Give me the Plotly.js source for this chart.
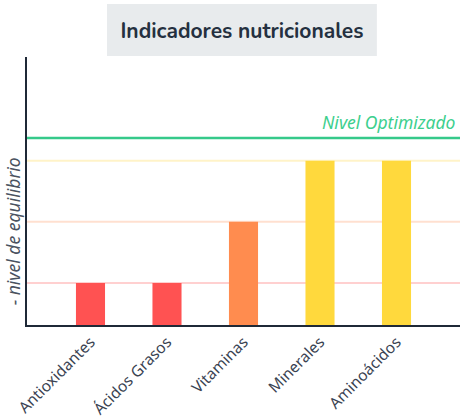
<!DOCTYPE html>
<html><head><meta charset="utf-8">
<script src="https://cdn.plot.ly/plotly-3.0.1.min.js"></script>
<style>html,body{margin:0;padding:0;background:#fff}#chart{width:460px;height:419px}</style>
</head><body><div id="chart"></div>
<script>
const categories = ["Antioxidantes", "Ácidos Grasos", "Vitaminas", "Minerales", "Aminoácidos"];
const values = [1, 1, 2, 3, 3];
const barColors = ["#ff5252", "#ff5252", "#ff8c4f", "#ffd93d", "#ffd93d"];
const levels = [1, 2, 3];
const levelColors = ["#ffd0d0", "#ffe0d0", "#fff3c8"];
const optimalLevel = 3.375;
const optimalLabel = "Nivel Optimizado";
const yTitle = "- nivel de equilibrio";
const chartTitle = "Indicadores nutricionales";

const shapes = levels.map((v, i) => ({
  type: "line", xref: "paper", x0: 0, x1: 1, yref: "y", y0: v, y1: v,
  line: {color: levelColors[i], width: 2}, layer: "below"
}));
shapes.push({type: "line", xref: "paper", x0: 0, x1: 1, yref: "y", y0: optimalLevel, y1: optimalLevel,
  line: {color: "#36c98a", width: 2.5}, layer: "below"});
shapes.push({type: "rect", xref: "paper", yref: "paper", x0: 0.1848, x1: 0.808, y0: 1.0037, y1: 1.198,
  fillcolor: "#e8ebed", line: {width: 0}, layer: "below"});

const trace = {
  type: "bar", x: categories, y: values, width: 0.38,
  marker: {color: barColors}, hoverinfo: "skip"
};

const layout = {
  width: 460, height: 419,
  margin: {l: 27, r: 0, t: 57, b: 94, pad: 0},
  paper_bgcolor: "#fff", plot_bgcolor: "#fff",
  showlegend: false,
  title: {text: "<b>" + chartTitle + "</b>", x: 0.526, xanchor: "center", y: 0.928, yanchor: "middle",
    font: {family: "Nunito, Lato, sans-serif", size: 21, color: "#243040"}},
  xaxis: {range: [-0.83, 4.83], showgrid: false, zeroline: false, showline: true, linecolor: "#1f2937", linewidth: 2,
    ticks: "", tickangle: -45, tickfont: {family: "Noto Sans, sans-serif", size: 15.5, color: "#3a4352"}},
  yaxis: {range: [0.31, 4.7], showgrid: false, zeroline: false, showline: true, linecolor: "#1f2937", linewidth: 2,
    showticklabels: false, ticks: ""},
  shapes: shapes,
  annotations: [
    {xref: "paper", x: 0.995, xanchor: "right", yref: "y", y: optimalLevel, yanchor: "bottom", yshift: 2,
     text: "<i>" + optimalLabel + "</i>", showarrow: false,
     font: {family: "Noto Sans, sans-serif", size: 17.5, color: "#3dcf8e"}},
    {xref: "paper", x: -0.032, xanchor: "center", yref: "paper", y: 0.35, yanchor: "middle",
     text: "<i>" + yTitle + "</i>", textangle: -90, showarrow: false,
     font: {family: "Noto Sans, sans-serif", size: 17.5, color: "#4a5260"}}
  ]
};
Plotly.newPlot("chart", [trace], layout, {displayModeBar: false, staticPlot: true});
</script></body></html>
